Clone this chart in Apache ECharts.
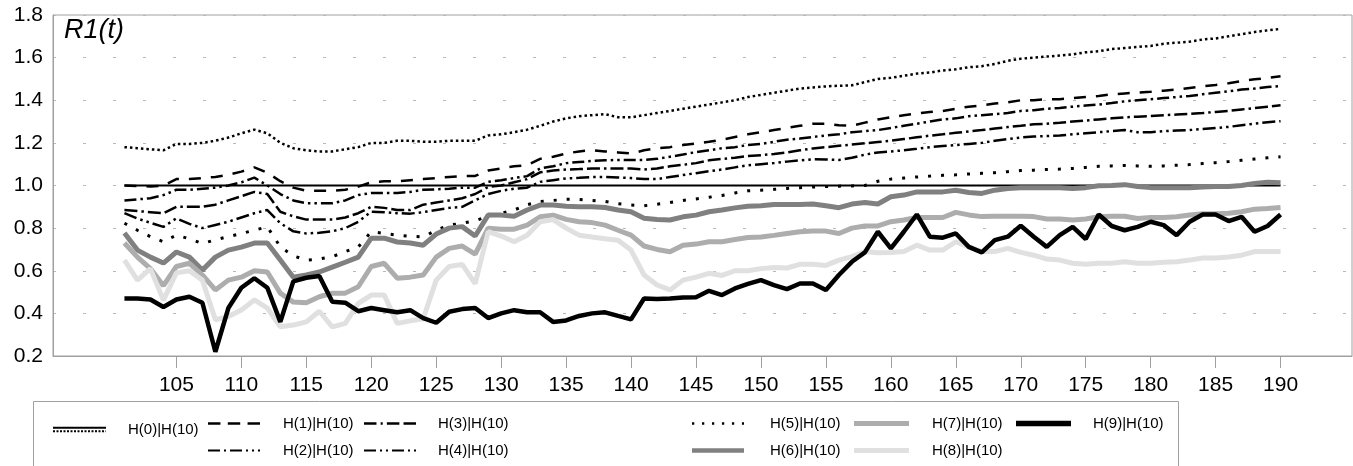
<!DOCTYPE html>
<html>
<head>
<meta charset="utf-8">
<script src="https://cdn.jsdelivr.net/npm/echarts/dist/echarts.min.js"></script>
<style>
html, body { margin: 0; padding: 0; background: #fff; }
#chart { width: 1353px; height: 466px; }
</style>
</head>
<body>
<div id="chart"></div>
<script>
// t runs 101..190, axis has empty room 96..100 and 191..195
var firstT = 96, lastT = 195, dataStart = 101;

var h0Solid = [
  1.0, 1.0, 1.0, 1.0, 1.0, 1.0, 1.0, 1.0, 1.0, 1.0,
  1.0, 1.0, 1.0, 1.0, 1.0, 1.0, 1.0, 1.0, 1.0, 1.0,
  1.0, 1.0, 1.0, 1.0, 1.0, 1.0, 1.0, 1.0, 1.0, 1.0,
  1.0, 1.0, 1.0, 1.0, 1.0, 1.0, 1.0, 1.0, 1.0, 1.0,
  1.0, 1.0, 1.0, 1.0, 1.0, 1.0, 1.0, 1.0, 1.0, 1.0,
  1.0, 1.0, 1.0, 1.0, 1.0, 1.0, 1.0, 1.0, 1.0, 1.0,
  1.0, 1.0, 1.0, 1.0, 1.0, 1.0, 1.0, 1.0, 1.0, 1.0,
  1.0, 1.0, 1.0, 1.0, 1.0, 1.0, 1.0, 1.0, 1.0, 1.0,
  1.0, 1.0, 1.0, 1.0, 1.0, 1.0, 1.0, 1.0, 1.0, 1.0
];
var h0Dot = [
  1.18, 1.175, 1.17, 1.165, 1.195, 1.195, 1.20, 1.21, 1.225, 1.245,
  1.262, 1.245, 1.20, 1.175, 1.165, 1.16, 1.16, 1.17, 1.18, 1.20,
  1.20, 1.21, 1.21, 1.205, 1.205, 1.21, 1.21, 1.21, 1.235, 1.24,
  1.25, 1.262, 1.28, 1.30, 1.315, 1.325, 1.33, 1.335, 1.32, 1.32,
  1.33, 1.34, 1.35, 1.36, 1.37, 1.38, 1.39, 1.40, 1.415, 1.425,
  1.435, 1.445, 1.455, 1.46, 1.465, 1.468, 1.47, 1.485, 1.50, 1.505,
  1.515, 1.525, 1.53, 1.54, 1.545, 1.555, 1.56, 1.57, 1.585, 1.595,
  1.60, 1.605, 1.61, 1.615, 1.625, 1.63, 1.64, 1.645, 1.65, 1.655,
  1.665, 1.67, 1.675, 1.685, 1.69, 1.70, 1.71, 1.72, 1.728, 1.735
];
var h1 = [
  1.0, 0.998, 0.995, 1.0, 1.03, 1.03, 1.035, 1.04, 1.05, 1.065,
  1.085, 1.06, 1.02, 0.99, 0.975, 0.975, 0.975, 0.98, 0.995, 1.015,
  1.02, 1.02, 1.025, 1.03, 1.035, 1.04, 1.044, 1.045, 1.07, 1.08,
  1.09, 1.095, 1.125, 1.135, 1.15, 1.16, 1.166, 1.16, 1.155, 1.15,
  1.165, 1.175, 1.18, 1.19, 1.197, 1.205, 1.215, 1.228, 1.24, 1.25,
  1.26, 1.27, 1.28, 1.29, 1.29, 1.283, 1.28, 1.295, 1.31, 1.32,
  1.33, 1.338, 1.345, 1.35, 1.36, 1.37, 1.376, 1.385, 1.39, 1.40,
  1.40, 1.405, 1.405, 1.41, 1.415, 1.42, 1.428, 1.432, 1.436, 1.44,
  1.445, 1.45, 1.458, 1.465, 1.472, 1.48, 1.49, 1.498, 1.505, 1.513
];
var h2 = [
  0.93, 0.935, 0.94, 0.955, 0.98, 0.98, 0.985, 0.99, 1.0, 1.015,
  1.037, 1.0, 0.96, 0.93, 0.917, 0.917, 0.917, 0.93, 0.955, 0.965,
  0.965, 0.965, 0.97, 0.98, 0.982, 0.985, 0.99, 0.99, 1.017, 1.025,
  1.035, 1.044, 1.08, 1.09, 1.105, 1.11, 1.115, 1.118, 1.12, 1.12,
  1.12, 1.125, 1.135, 1.145, 1.157, 1.165, 1.175, 1.18, 1.19, 1.195,
  1.205, 1.215, 1.22, 1.228, 1.235, 1.24, 1.25, 1.255, 1.26, 1.27,
  1.28, 1.29, 1.30, 1.31, 1.315, 1.325, 1.33, 1.335, 1.34, 1.35,
  1.353, 1.36, 1.364, 1.37, 1.375, 1.38, 1.387, 1.395, 1.40, 1.405,
  1.41, 1.415, 1.42, 1.428, 1.435, 1.442, 1.45, 1.455, 1.462, 1.467
];
var h3 = [
  0.885, 0.88, 0.875, 0.87, 0.9, 0.9, 0.9, 0.91, 0.93, 0.95,
  0.97, 0.96, 0.877, 0.855, 0.84, 0.84, 0.84, 0.85, 0.87, 0.9,
  0.895, 0.885, 0.885, 0.91, 0.92, 0.93, 0.94, 0.96, 0.993, 1.0,
  1.015, 1.03, 1.062, 1.07, 1.075, 1.077, 1.08, 1.08, 1.08, 1.08,
  1.075, 1.08, 1.09, 1.097, 1.105, 1.118, 1.125, 1.13, 1.138, 1.142,
  1.148, 1.155, 1.165, 1.174, 1.18, 1.186, 1.192, 1.198, 1.204, 1.21,
  1.218, 1.226, 1.234, 1.24, 1.247, 1.254, 1.26, 1.267, 1.274, 1.28,
  1.287, 1.29, 1.294, 1.30, 1.305, 1.31, 1.315, 1.32, 1.323, 1.326,
  1.33, 1.333, 1.336, 1.34, 1.345, 1.35, 1.357, 1.363, 1.37, 1.376
];
var h4 = [
  0.87, 0.845, 0.825, 0.806, 0.846, 0.82, 0.80, 0.815, 0.83, 0.85,
  0.87, 0.885, 0.823, 0.785, 0.775, 0.778, 0.785, 0.80, 0.83, 0.877,
  0.875, 0.87, 0.868, 0.875, 0.885, 0.895, 0.90, 0.93, 0.96, 0.975,
  0.985, 0.99, 1.017, 1.025, 1.033, 1.036, 1.04, 1.04, 1.038, 1.035,
  1.03, 1.03, 1.04, 1.049, 1.058, 1.067, 1.075, 1.085, 1.095, 1.10,
  1.105, 1.112, 1.118, 1.123, 1.122, 1.12, 1.13, 1.145, 1.155, 1.16,
  1.165, 1.172, 1.18, 1.185, 1.19, 1.195, 1.20, 1.21, 1.218, 1.225,
  1.23, 1.232, 1.235, 1.24, 1.245, 1.25, 1.255, 1.26, 1.25, 1.25,
  1.255, 1.258, 1.26, 1.265, 1.27, 1.275, 1.283, 1.29, 1.297, 1.302
];
var h5 = [
  0.823, 0.79, 0.76, 0.736, 0.767, 0.75, 0.728, 0.745, 0.76, 0.775,
  0.79, 0.806, 0.712, 0.67, 0.65, 0.655, 0.666, 0.69, 0.712, 0.783,
  0.775, 0.767, 0.762, 0.759, 0.79, 0.814, 0.823, 0.835, 0.855, 0.87,
  0.885, 0.91, 0.925, 0.93, 0.935, 0.935, 0.93, 0.925, 0.915, 0.908,
  0.905, 0.912, 0.92, 0.93, 0.937, 0.945, 0.953, 0.965, 0.975, 0.978,
  0.982, 0.986, 0.99, 0.993, 0.995, 0.997, 0.998, 1.0, 1.02, 1.03,
  1.035, 1.04, 1.044, 1.048, 1.05, 1.054, 1.057, 1.06, 1.065, 1.07,
  1.072, 1.075, 1.077, 1.08, 1.085, 1.09, 1.092, 1.094, 1.092, 1.09,
  1.092, 1.095, 1.098, 1.103, 1.107, 1.112, 1.118, 1.124, 1.13, 1.135
];
var h6 = [
  0.777, 0.697, 0.664, 0.636, 0.688, 0.664, 0.603, 0.664, 0.697, 0.711,
  0.73, 0.73, 0.65, 0.57, 0.58, 0.594, 0.617, 0.64, 0.664, 0.753,
  0.753, 0.735, 0.73, 0.72, 0.772, 0.80, 0.807, 0.763, 0.861, 0.861,
  0.856, 0.885, 0.908, 0.908, 0.903, 0.90, 0.90, 0.897, 0.885, 0.877,
  0.846, 0.841, 0.838, 0.853, 0.861, 0.877, 0.885, 0.895, 0.903, 0.905,
  0.911, 0.911, 0.911, 0.913, 0.905, 0.896, 0.913, 0.92, 0.913, 0.947,
  0.955, 0.97, 0.97, 0.97, 0.978, 0.967, 0.963, 0.978, 0.986, 0.99,
  0.99, 0.99, 0.99, 0.986, 0.99, 0.999, 1.0, 1.004, 0.995, 0.99,
  0.99, 0.99, 0.99, 0.993, 0.995, 0.995, 1.0, 1.01, 1.015, 1.013
];
var h7 = [
  0.73, 0.664, 0.61, 0.53, 0.62, 0.635, 0.58, 0.51, 0.556, 0.57,
  0.60, 0.594, 0.495, 0.453, 0.45, 0.478, 0.495, 0.495, 0.525, 0.62,
  0.635, 0.565, 0.57, 0.58, 0.664, 0.705, 0.716, 0.678, 0.80, 0.795,
  0.795, 0.814, 0.853, 0.861, 0.841, 0.83, 0.826, 0.814, 0.79, 0.767,
  0.716, 0.70, 0.689, 0.72, 0.725, 0.736, 0.736, 0.747, 0.756, 0.758,
  0.766, 0.775, 0.783, 0.786, 0.786, 0.775, 0.80, 0.81, 0.81, 0.83,
  0.838, 0.85, 0.85, 0.85, 0.874, 0.862, 0.854, 0.856, 0.856, 0.856,
  0.854, 0.843, 0.843, 0.838, 0.843, 0.853, 0.856, 0.856, 0.845, 0.85,
  0.85, 0.853, 0.862, 0.867, 0.867, 0.87, 0.877, 0.889, 0.892, 0.897
];
var h8 = [
  0.65, 0.556, 0.61, 0.462, 0.59, 0.60, 0.556, 0.37, 0.385, 0.416,
  0.463, 0.425, 0.337, 0.345, 0.36, 0.41, 0.337, 0.353, 0.447, 0.486,
  0.486, 0.353, 0.365, 0.375, 0.556, 0.62, 0.63, 0.54, 0.783, 0.763,
  0.736, 0.767, 0.83, 0.84, 0.80, 0.767, 0.758, 0.75, 0.743, 0.697,
  0.58, 0.533, 0.51, 0.556, 0.57, 0.588, 0.578, 0.60, 0.60, 0.61,
  0.615, 0.613, 0.63, 0.63, 0.625, 0.65, 0.666, 0.69, 0.685, 0.686,
  0.69, 0.72, 0.697, 0.697, 0.736, 0.712, 0.69, 0.69, 0.705, 0.686,
  0.673, 0.655, 0.65, 0.635, 0.63, 0.635, 0.635, 0.642, 0.635, 0.635,
  0.64, 0.642, 0.65, 0.66, 0.66, 0.665, 0.673, 0.69, 0.69, 0.69
];
var h9 = [
  0.47, 0.47, 0.465, 0.43, 0.465, 0.478, 0.45, 0.22, 0.425, 0.52,
  0.565, 0.52, 0.36, 0.55, 0.567, 0.575, 0.455, 0.45, 0.41, 0.425,
  0.415, 0.405, 0.415, 0.378, 0.356, 0.408, 0.42, 0.425, 0.378, 0.40,
  0.415, 0.405, 0.405, 0.36, 0.367, 0.388, 0.40, 0.405, 0.388, 0.372,
  0.47, 0.467, 0.47, 0.475, 0.476, 0.506, 0.486, 0.517, 0.538, 0.556,
  0.533, 0.514, 0.54, 0.54, 0.51, 0.58, 0.642, 0.686, 0.783, 0.705,
  0.783, 0.864, 0.76, 0.755, 0.775, 0.712, 0.686, 0.744, 0.76, 0.811,
  0.76, 0.712, 0.767, 0.806, 0.749, 0.864, 0.81, 0.79, 0.806, 0.83,
  0.814, 0.767, 0.83, 0.864, 0.864, 0.833, 0.853, 0.783, 0.81, 0.864
];

var font = "'Liberation Sans', Arial, sans-serif";

var cats = [];
for (var t = firstT; t <= lastT; t++) cats.push(String(t));

function pad(vals) {
  var out = [];
  for (var t = firstT; t < dataStart; t++) out.push(null);
  out = out.concat(vals);
  while (out.length < cats.length) out.push(null);
  return out;
}

function showCat(idx, val) {
  var n = +val;
  return n >= 105 && n <= 190 && n % 5 === 0;
}

function line(name, vals, color, width, dash) {
  return {
    name: name, type: 'line', data: pad(vals), symbol: 'none',
    color: color, silent: true, animation: false,
    lineStyle: { color: color, width: width, type: dash || 'solid' }
  };
}

// legend icons built as little strips of rectangles
function strip(pattern, width, thick, y0) {
  var d = '', x = 0, k = 0;
  while (x < width) {
    var len = pattern[k % pattern.length];
    if (k % 2 === 0) {
      var w = Math.min(len, width - x);
      d += 'M' + x + ',' + y0 + 'h' + w + 'v' + thick + 'h' + (-w) + 'Z';
    }
    x += len; k++;
  }
  return d;
}
function icon(pattern, width, thick) { return 'path://' + strip(pattern, width, thick, 0); }

function legendCol(names, icons, left, top, iconW, textPad) {
  return {
    orient: 'vertical', left: left, top: top, padding: 0, itemGap: 12,
    itemWidth: iconW, itemHeight: 14, selectedMode: false,
    itemStyle: { borderWidth: 0 },
    data: names.map(function (n, i) { return { name: n, icon: icons[i] }; }),
    textStyle: { fontSize: 15, color: '#000', fontFamily: font, lineHeight: 14, padding: textPad }
  };
}

var option = {
  animation: false,
  backgroundColor: '#fff',
  title: {
    text: 'R1(t)', left: 64, top: 17, padding: 0,
    textStyle: { fontStyle: 'italic', fontWeight: 'normal', fontSize: 27, color: '#000', fontFamily: font }
  },
  grid: {
    left: 53, right: 1, top: 15, bottom: 110,
    show: true, borderColor: '#a0a0a0', borderWidth: 1,
    containLabel: false, outerBoundsMode: 'none'
  },
  xAxis: {
    type: 'category', data: cats, boundaryGap: true,
    axisLine: { lineStyle: { color: '#a0a0a0', width: 1 } },
    axisTick: { show: true, alignWithLabel: true, interval: showCat, length: 12, lineStyle: { color: '#a0a0a0' } },
    axisLabel: { interval: showCat, fontSize: 21, color: '#000', fontFamily: font, margin: 19 },
    splitLine: { show: false }
  },
  yAxis: {
    type: 'value', min: 0.2, max: 1.8, interval: 0.2,
    axisLine: { show: true, lineStyle: { color: '#a0a0a0', width: 1 } },
    axisTick: { show: false },
    axisLabel: {
      fontSize: 21, color: '#000', fontFamily: font, margin: 10,
      formatter: function (v) { return v.toFixed(1); }
    },
    splitLine: { show: true, lineStyle: { color: '#b8b8b8', width: 1, type: [3, 27] } }
  },
  legend: [
    legendCol(['H(0)|H(10)'],
      ['path://' + strip([53], 53, 2, 0) + strip([2, 1.5], 53, 2, 3.5)],
      53, 415, 53, [15, 0, 0, 17]),
    legendCol(['H(1)|H(10)', 'H(2)|H(10)'],
      [icon([11, 6.5], 46, 2.2), icon([12, 4, 2, 4, 12, 4, 2, 4, 2, 4], 52, 2.2)],
      208, 416, 52, [0, 0, 0, 18]),
    legendCol(['H(3)|H(10)', 'H(4)|H(10)'],
      [icon([12, 4, 2, 4, 12, 4], 50, 2.2), icon([12, 4, 2, 4, 2, 4], 54, 2.2)],
      364, 416, 52, [0, 0, 0, 17]),
    legendCol(['H(5)|H(10)', 'H(6)|H(10)'],
      [icon([2.2, 7.4], 50, 2.2), icon([56], 56, 5)],
      692, 416, 52, [0, 0, 0, 21]),
    legendCol(['H(7)|H(10)', 'H(8)|H(10)'],
      [icon([56], 56, 5), icon([56], 56, 5)],
      854, 416, 55, [0, 0, 0, 18]),
    legendCol(['H(9)|H(10)'],
      [icon([56], 56, 5.5)],
      1016, 416, 55, [0, 0, 0, 17])
  ],
  graphic: [{
    type: 'rect', silent: true,
    shape: { x: 33.5, y: 401.5, width: 1145, height: 90 },
    style: { fill: 'none', stroke: '#a0a0a0', lineWidth: 1 }
  }],
  series: [
    line('H(0)|H(10)', h0Solid, '#000000', 2),
    line('H(0)|H(10)', h0Dot, '#000000', 2.5, [2.5, 3]),
    line('H(1)|H(10)', h1, '#000000', 2.5, [12, 10]),
    line('H(2)|H(10)', h2, '#000000', 2.5, [12, 4, 2.5, 4, 12, 4, 2.5, 4, 2.5, 4]),
    line('H(3)|H(10)', h3, '#000000', 2.5, [13, 4, 2.5, 4, 13, 4]),
    line('H(4)|H(10)', h4, '#000000', 2.5, [13, 4, 2.5, 4, 2.5, 4]),
    line('H(5)|H(10)', h5, '#000000', 3, [3, 10]),
    line('H(6)|H(10)', h6, '#808080', 5),
    line('H(7)|H(10)', h7, '#adadad', 5),
    line('H(8)|H(10)', h8, '#e0e0e0', 5),
    line('H(9)|H(10)', h9, '#000000', 4.5)
  ]
};

var myChart = echarts.init(document.getElementById('chart'), null, { renderer: 'canvas' });
myChart.setOption(option);
</script>
</body>
</html>
